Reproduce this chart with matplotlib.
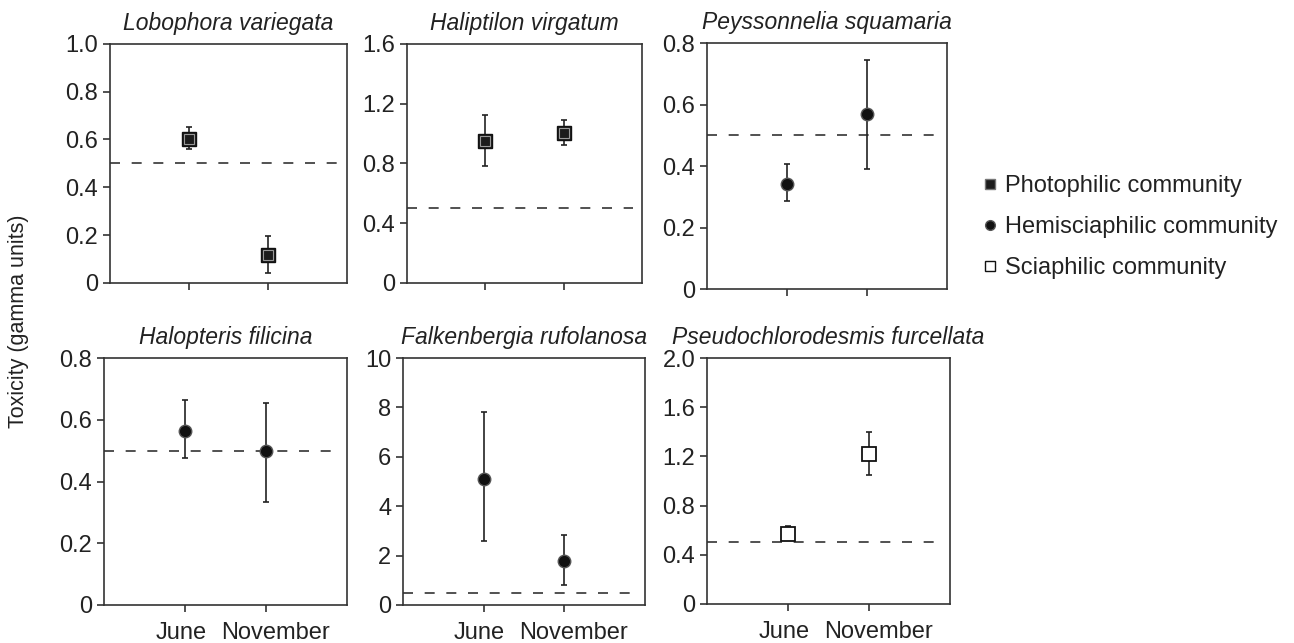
import numpy as np
import matplotlib
matplotlib.use('Agg')
import matplotlib.pyplot as plt
from matplotlib.lines import Line2D

plt.rcParams['font.family'] = ['Liberation Sans', 'DejaVu Sans']

months = ['June', 'November']
species = ['Lobophora variegata', 'Haliptilon virgatum', 'Peyssonnelia squamaria',
           'Halopteris filicina', 'Falkenbergia rufolanosa', 'Pseudochlorodesmis furcellata']
community = ['photo', 'photo', 'hemi', 'hemi', 'hemi', 'scia']

# toxicity means and error bar ends (low, high)
means = [[0.60, 0.115], [0.95, 1.00], [0.34, 0.57],
         [0.565, 0.50], [5.1, 1.8], [0.57, 1.22]]
lows = [[0.56, 0.04], [0.78, 0.92], [0.285, 0.39],
        [0.475, 0.335], [2.6, 0.8], [0.52, 1.05]]
highs = [[0.65, 0.195], [1.12, 1.09], [0.405, 0.745],
         [0.663, 0.655], [7.8, 2.85], [0.63, 1.40]]
threshold = [0.5, 0.5, 0.5, 0.5, 0.5, 0.5]

yticks = [[0, 0.2, 0.4, 0.6, 0.8, 1.0], [0, 0.4, 0.8, 1.2, 1.6], [0, 0.2, 0.4, 0.6, 0.8],
          [0, 0.2, 0.4, 0.6, 0.8], [0, 2, 4, 6, 8, 10], [0, 0.4, 0.8, 1.2, 1.6, 2.0]]
yticklabels = [['0', '0.2', '0.4', '0.6', '0.8', '1.0'], ['0', '0.4', '0.8', '1.2', '1.6'],
               ['0', '0.2', '0.4', '0.6', '0.8'], ['0', '0.2', '0.4', '0.6', '0.8'],
               ['0', '2', '4', '6', '8', '10'], ['0', '0.4', '0.8', '1.2', '1.6', '2.0']]

# axes boxes [left, bottom, width, height] in figure fraction
boxes = [[0.085, 0.560, 0.183, 0.372], [0.3145, 0.560, 0.182, 0.372], [0.5464, 0.5505, 0.1855, 0.3826],
         [0.0804, 0.0591, 0.1878, 0.384], [0.3114, 0.0591, 0.187, 0.384], [0.5464, 0.0607, 0.1878, 0.3825]]

dark = '#222222'
styles = {
    'photo': dict(marker='s', ms=10, mfc='#1c1c1c', mec='#111111', mew=1.0),
    'hemi': dict(marker='o', ms=9, mfc='#111111', mec='#555555', mew=1.0),
    'scia': dict(marker='s', ms=10, mfc='white', mec='#111111', mew=1.3),
}

fig = plt.figure(figsize=(12.94, 6.43), dpi=100)
x = np.array([1, 2])
for i in range(6):
    ax = fig.add_axes(boxes[i])
    m = np.array(means[i])
    err = [m - np.array(lows[i]), np.array(highs[i]) - m]
    ax.axhline(threshold[i], xmin=0, xmax=0.96, color='#333333', lw=1.2, dashes=(6, 7))
    ax.errorbar(x, m, yerr=err, fmt='none', ecolor=dark, elinewidth=1.2, capsize=2.5, capthick=1.2)
    ax.plot(x, m, ls='none', **styles[community[i]])
    if community[i] == 'photo':
        # inner lighter ring
        ax.plot(x, m, ls='none', marker='s', ms=7.5, mfc='#1c1c1c', mec='#999999', mew=0.8)
    ax.set_xlim(0, 3)
    ax.set_ylim(yticks[i][0], yticks[i][-1])
    ax.set_yticks(yticks[i])
    ax.set_yticklabels(yticklabels[i])
    ax.set_xticks(x)
    ax.set_xticklabels(['', ''])
    if i >= 3:
        # month labels sit a little apart from their ticks
        for xi, mon, dx in zip(x, months, [-3, 7]):
            ax.annotate(mon, xy=(xi, 0), xycoords=('data', 'axes fraction'),
                        xytext=(dx, -12), textcoords='offset points',
                        ha='center', va='top', fontsize=17, color='#222222')
    ax.tick_params(axis='both', direction='out', length=5, width=1.1, colors='#222222', labelsize=17)
    for s in ax.spines.values():
        s.set_color('#333333')
        s.set_linewidth(1.2)
    ax.set_title(species[i], fontsize=16.5, style='italic', color='#222222', pad=10)

fig.text(0.014, 0.5, 'Toxicity (gamma units)', rotation=90, va='center', ha='center',
         fontsize=15.5, color='#222222')

handles = [Line2D([], [], ls='none', marker='s', ms=7.5, mfc='#1c1c1c', mec='#777777', mew=1.0),
           Line2D([], [], ls='none', marker='o', ms=7, mfc='#111111', mec='#555555'),
           Line2D([], [], ls='none', marker='s', ms=7, mfc='white', mec='#111111', mew=1.0)]
fig.legend(handles, ['Photophilic community', 'Hemisciaphilic community', 'Sciaphilic community'],
           loc='center left', bbox_to_anchor=(0.743, 0.647), frameon=False, fontsize=17,
           handlelength=0.6, handletextpad=0.35, labelspacing=0.8, labelcolor='#222222')

fig.savefig('out.png', dpi=100)
